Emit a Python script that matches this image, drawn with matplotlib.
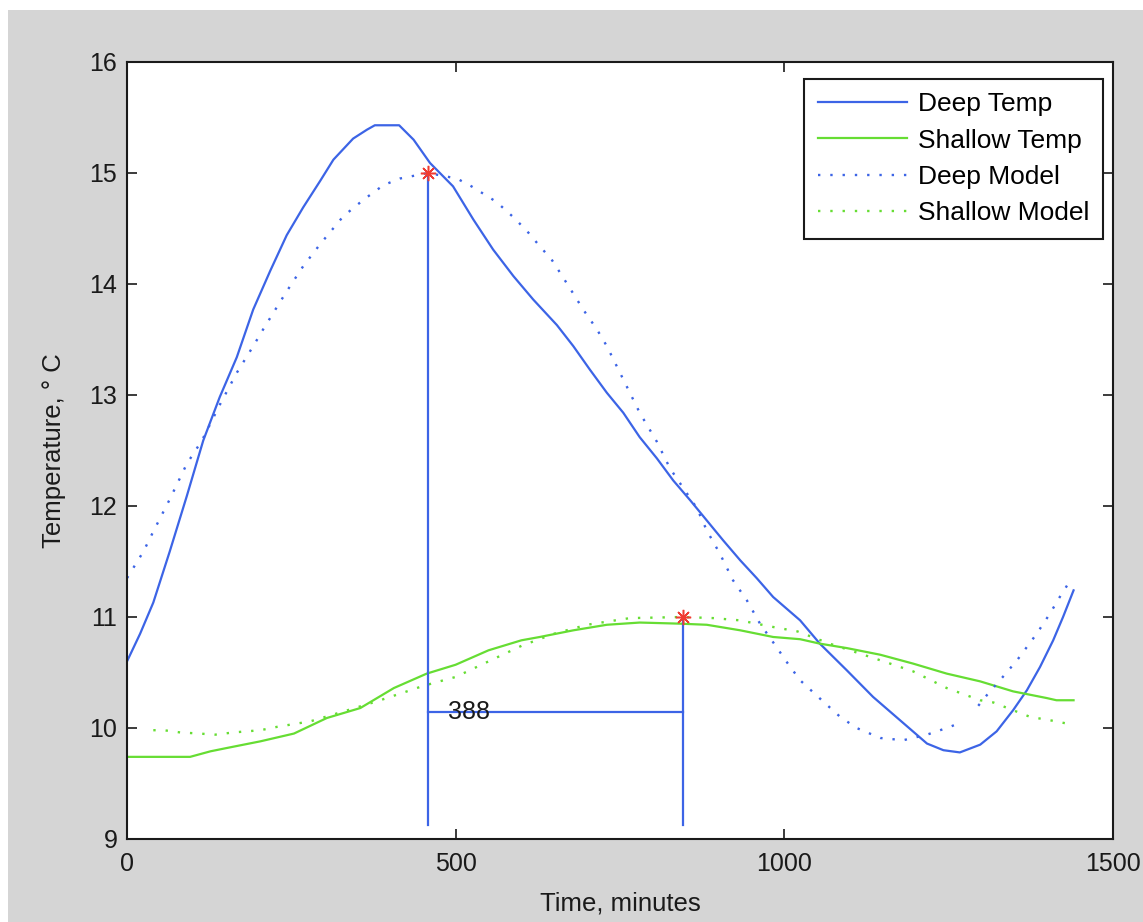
import numpy as np
import matplotlib
matplotlib.use("Agg")
import matplotlib.pyplot as plt
from matplotlib.patches import Rectangle

plt.rcParams['font.family'] = ['Liberation Sans', 'DejaVu Sans']

# ---------------- data ----------------
deep_t = [0, 20, 40, 65, 91, 116, 141, 167, 192, 218, 243, 268, 294, 314, 344, 365,
          377, 414, 436, 461, 496, 527, 557, 588, 618, 654, 679, 704, 730, 755, 780,
          806, 831, 857, 882, 907, 933, 958, 983, 1024, 1054, 1095, 1135, 1176, 1217,
          1242, 1267, 1298, 1323, 1348, 1369, 1389, 1409, 1424, 1440]
deep_temp = [10.60, 10.85, 11.13, 11.59, 12.09, 12.59, 12.98, 13.34, 13.77, 14.12, 14.44,
             14.69, 14.93, 15.12, 15.31, 15.39, 15.43, 15.43, 15.30, 15.09, 14.88, 14.58,
             14.31, 14.07, 13.86, 13.63, 13.44, 13.23, 13.02, 12.84, 12.62, 12.43, 12.23,
             12.05, 11.87, 11.69, 11.51, 11.35, 11.18, 10.97, 10.76, 10.52, 10.28, 10.07,
             9.86, 9.80, 9.78, 9.85, 9.97, 10.16, 10.34, 10.55, 10.79, 11.00, 11.24]

deep_model_t = [0, 25, 40, 65, 91, 114, 141, 167, 192, 207, 233, 248, 268, 294, 329, 360,
                390, 415, 458, 502, 524, 562, 590, 611, 628, 646, 659, 674, 694, 715, 730,
                745, 760, 780, 806, 826, 867, 882, 902, 922, 943, 963, 988, 1003, 1024,
                1057, 1085, 1110, 1146, 1181, 1217, 1252, 1260, 1290, 1295, 1310, 1328,
                1354, 1369, 1384, 1404, 1419, 1434]
deep_model = [11.35, 11.59, 11.77, 12.06, 12.38, 12.59, 12.91, 13.20, 13.44, 13.59, 13.84,
              13.98, 14.16, 14.36, 14.61, 14.76, 14.89, 14.95, 15.00, 14.95, 14.88, 14.74,
              14.59, 14.46, 14.34, 14.22, 14.10, 13.96, 13.77, 13.59, 13.44, 13.26, 13.08,
              12.84, 12.58, 12.34, 11.98, 11.78, 11.57, 11.33, 11.15, 10.94, 10.73, 10.60,
              10.43, 10.25, 10.10, 10.00, 9.91, 9.89, 9.94, 10.01, 10.03, np.nan, 10.20,
              10.31, 10.43, 10.61, 10.73, 10.85, 11.03, 11.18, 11.32]

shallow_t = [0, 50, 96, 127, 152, 203, 254, 304, 355, 406, 456, 500, 550, 600, 628, 679,
             730, 780, 841, 882, 933, 983, 1024, 1054, 1095, 1146, 1196, 1247, 1298, 1348,
             1399, 1414, 1440]
shallow_temp = [9.74, 9.74, 9.74, 9.79, 9.82, 9.88, 9.95, 10.09, 10.18, 10.36, 10.49, 10.57,
                10.70, 10.79, 10.82, 10.88, 10.93, 10.95, 10.94, 10.93, 10.88, 10.82, 10.80,
                10.76, 10.72, 10.66, 10.58, 10.49, 10.42, 10.33, 10.27, 10.25, 10.25]

shallow_model_t = [40, 56, 81, 110, 134, 162, 203, 228, 279, 330, 380, 431, 451, 500, 550,
                   600, 650, 700, 765, 846, 892, 932, 983, 1020, 1069, 1146, 1196, 1247,
                   1298, 1318, 1348, 1374, 1404, 1430]
shallow_model = [9.98, 9.98, 9.96, 9.95, 9.94, 9.96, 9.98, 10.01, 10.06, 10.15, 10.24, 10.34,
                 10.38, 10.46, 10.60, 10.74, 10.85, 10.93, 10.99, 11.00, 10.99, 10.97, 10.91,
                 10.87, 10.76, 10.61, 10.51, 10.36, 10.25, 10.23, 10.16, 10.10, 10.07, 10.04]

peak_t = [458, 846]
peak_val = [15.0, 11.0]
lag_y = 10.14
line_bottom = 9.13
lag_label = "388"

series_labels = ["Deep Temp", "Shallow Temp", "Deep Model", "Shallow Model"]
x_ticks = [0, 500, 1000, 1500]
y_ticks = [9, 10, 11, 12, 13, 14, 15, 16]

# ---------------- styling ----------------
BLUE = '#3c64e6'
GREEN = '#66dd33'
RED = '#f03c32'
GRAY = '#d5d5d5'
INK = '#1a1a1a'

W, H = 1143, 922
fig = plt.figure(figsize=(W / 100, H / 100), dpi=100, facecolor='white')
fig.patches.append(Rectangle((8 / W, 0), 1, 1 - 10 / H, transform=fig.transFigure,
                             facecolor=GRAY, edgecolor='none', zorder=-10))

ax = fig.add_axes([127 / W, 1 - 839 / H, (1113 - 127) / W, (839 - 62) / H])
ax.set_facecolor('white')

dots = (0, (1, 4.2))
ax.plot(deep_t, deep_temp, color=BLUE, lw=1.6, label=series_labels[0])
ax.plot(shallow_t, shallow_temp, color=GREEN, lw=1.6, label=series_labels[1])
ax.plot(deep_model_t, deep_model, color=BLUE, lw=1.7, linestyle=dots, label=series_labels[2])
ax.plot(shallow_model_t, shallow_model, color=GREEN, lw=1.7, linestyle=dots,
        label=series_labels[3])

# peak markers and lag construction
for t, v in zip(peak_t, peak_val):
    ax.plot([t, t], [v, line_bottom], color=BLUE, lw=1.6)
ax.plot(peak_t, [lag_y, lag_y], color=BLUE, lw=1.6)
ax.plot(peak_t, peak_val, linestyle='none', marker=(8, 2, 0), markersize=11,
        markeredgewidth=1.1, color=RED)
ax.text(peak_t[0] + 30, lag_y, lag_label, fontsize=18, ha='left', va='center', color=INK)

ax.set_xlim(0, 1500)
ax.set_ylim(9, 16)
ax.set_xticks(x_ticks)
ax.set_yticks(y_ticks)
ax.tick_params(direction='in', length=7.5, width=1.2, top=True, right=True,
               labelsize=18, colors=INK)
ax.tick_params(axis='x', pad=9)
ax.tick_params(axis='y', pad=7)
for sp in ax.spines.values():
    sp.set_linewidth(1.5)
    sp.set_color(INK)

ax.set_xlabel("Time, minutes", fontsize=18.5, color=INK)
ax.xaxis.set_label_coords(0.5, -0.068)
ax.set_ylabel("Temperature, ° C", fontsize=18.5, color=INK)
ax.yaxis.set_label_coords(-0.062, 0.5)

leg = ax.legend(loc='upper right', bbox_to_anchor=((1103 - 127) / 986, (839 - 79) / 777),
                borderaxespad=0, fancybox=False, shadow=False, fontsize=19,
                handlelength=3.4, handletextpad=0.42, labelspacing=0.47, borderpad=0.5,
                framealpha=1)
leg.get_frame().set_edgecolor(INK)
leg.get_frame().set_linewidth(1.5)

fig.savefig('out.png', dpi=100, facecolor=fig.get_facecolor())
